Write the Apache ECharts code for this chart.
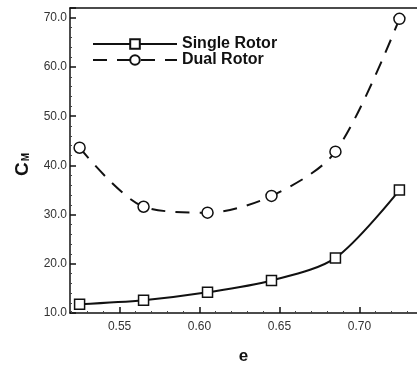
<!DOCTYPE html>
<html>
<head>
<meta charset="utf-8">
<script src="https://cdn.jsdelivr.net/npm/echarts@6/dist/echarts.min.js"></script>
<style>
  html, body { margin: 0; padding: 0; background: #fff; }
  #main { width: 417px; height: 370px; }
</style>
</head>
<body>
<div id="main"></div>
<script>
// values
const eValues = [0.525, 0.565, 0.605, 0.645, 0.685, 0.725];
const singleRotor = [11.8, 12.6, 14.2, 16.6, 21.2, 35.0];
const dualRotor = [43.6, 31.6, 30.4, 33.8, 42.8, 69.8];
const xTicks = [0.55, 0.60, 0.65, 0.70];
const xMinorTicks = [0.52, 0.53, 0.54, 0.56, 0.57, 0.58, 0.59, 0.61, 0.62, 0.63, 0.64,
  0.66, 0.67, 0.68, 0.69, 0.71, 0.72, 0.73];

const font = 'Liberation Sans, Arial, sans-serif';
const ink = '#111';

let myChart = echarts.init(document.getElementById('main'));
myChart.setOption({
  animation: false,
  backgroundColor: '#fff',
  grid: { left: 70, right: 0, top: 8, bottom: 52 },
  legend: {
    left: 87,
    top: 31,
    orient: 'vertical',
    itemWidth: 84,
    itemHeight: 12,
    itemGap: 0,
    textStyle: { fontFamily: font, fontWeight: 'bold', fontSize: 16, color: ink },
    data: ['Single Rotor', 'Dual Rotor']
  },
  xAxis: [
    {
      type: 'value',
      position: 'bottom',
      min: 0.519,
      max: 0.736,
      name: 'e',
      nameLocation: 'middle',
      nameGap: 35,
      nameTextStyle: { fontFamily: font, fontWeight: 'bold', fontSize: 17, color: ink },
      axisLine: { lineStyle: { color: ink, width: 1.5 } },
      axisTick: { inside: true, length: 6, customValues: xTicks, lineStyle: { color: ink, width: 1.5 } },
      axisLabel: {
        customValues: xTicks,
        fontFamily: font, fontSize: 12, color: '#333', margin: 8,
        formatter: v => v.toFixed(2)
      },
      splitLine: { show: false }
    },
    {
      type: 'value',
      position: 'bottom',
      min: 0.519,
      max: 0.736,
      axisLine: { show: false },
      axisTick: { inside: true, length: 2, customValues: xMinorTicks, lineStyle: { color: '#444', width: 1 } },
      axisLabel: { show: false },
      splitLine: { show: false }
    },
    {
      type: 'value',
      position: 'top',
      min: 0.519,
      max: 0.736,
      axisLine: { lineStyle: { color: ink, width: 1.5 } },
      axisTick: { show: false },
      axisLabel: { show: false },
      splitLine: { show: false }
    }
  ],
  yAxis: {
    type: 'value',
    min: 10,
    max: 72,
    interval: 10,
    name: '{c|C}{m|M}',
    nameLocation: 'middle',
    nameGap: 38,
    nameRotate: 90,
    nameTextStyle: {
      padding: [0, 8, 0, 0],
      rich: {
        c: { fontFamily: font, fontWeight: 'bold', fontSize: 19, color: ink },
        m: { fontFamily: font, fontWeight: 'bold', fontSize: 10, color: ink, padding: [8, 0, 0, 1] }
      }
    },
    axisLine: { lineStyle: { color: ink, width: 1.5 } },
    axisTick: { inside: true, length: 6, lineStyle: { color: ink, width: 1.5 } },
    minorTick: { show: true, splitNumber: 5, length: 2, lineStyle: { color: '#444' } },
    axisLabel: {
      fontFamily: font, fontSize: 12, color: '#333', margin: 3,
      formatter: v => v.toFixed(1)
    },
    splitLine: { show: false }
  },
  series: [
    {
      name: 'Single Rotor',
      type: 'line',
      smooth: 0.3,
      data: eValues.map((e, i) => [e, singleRotor[i]]),
      symbol: 'rect',
      symbolSize: 10,
      lineStyle: { color: ink, width: 2 },
      itemStyle: { color: '#fff', borderColor: ink, borderWidth: 1.5 }
    },
    {
      name: 'Dual Rotor',
      type: 'line',
      smooth: 0.3,
      data: eValues.map((e, i) => [e, dualRotor[i]]),
      symbol: 'circle',
      symbolSize: 11,
      lineStyle: { color: ink, width: 2, type: [14, 10] },
      itemStyle: { color: '#fff', borderColor: ink, borderWidth: 1.5 }
    }
  ]
});
</script>
</body>
</html>
